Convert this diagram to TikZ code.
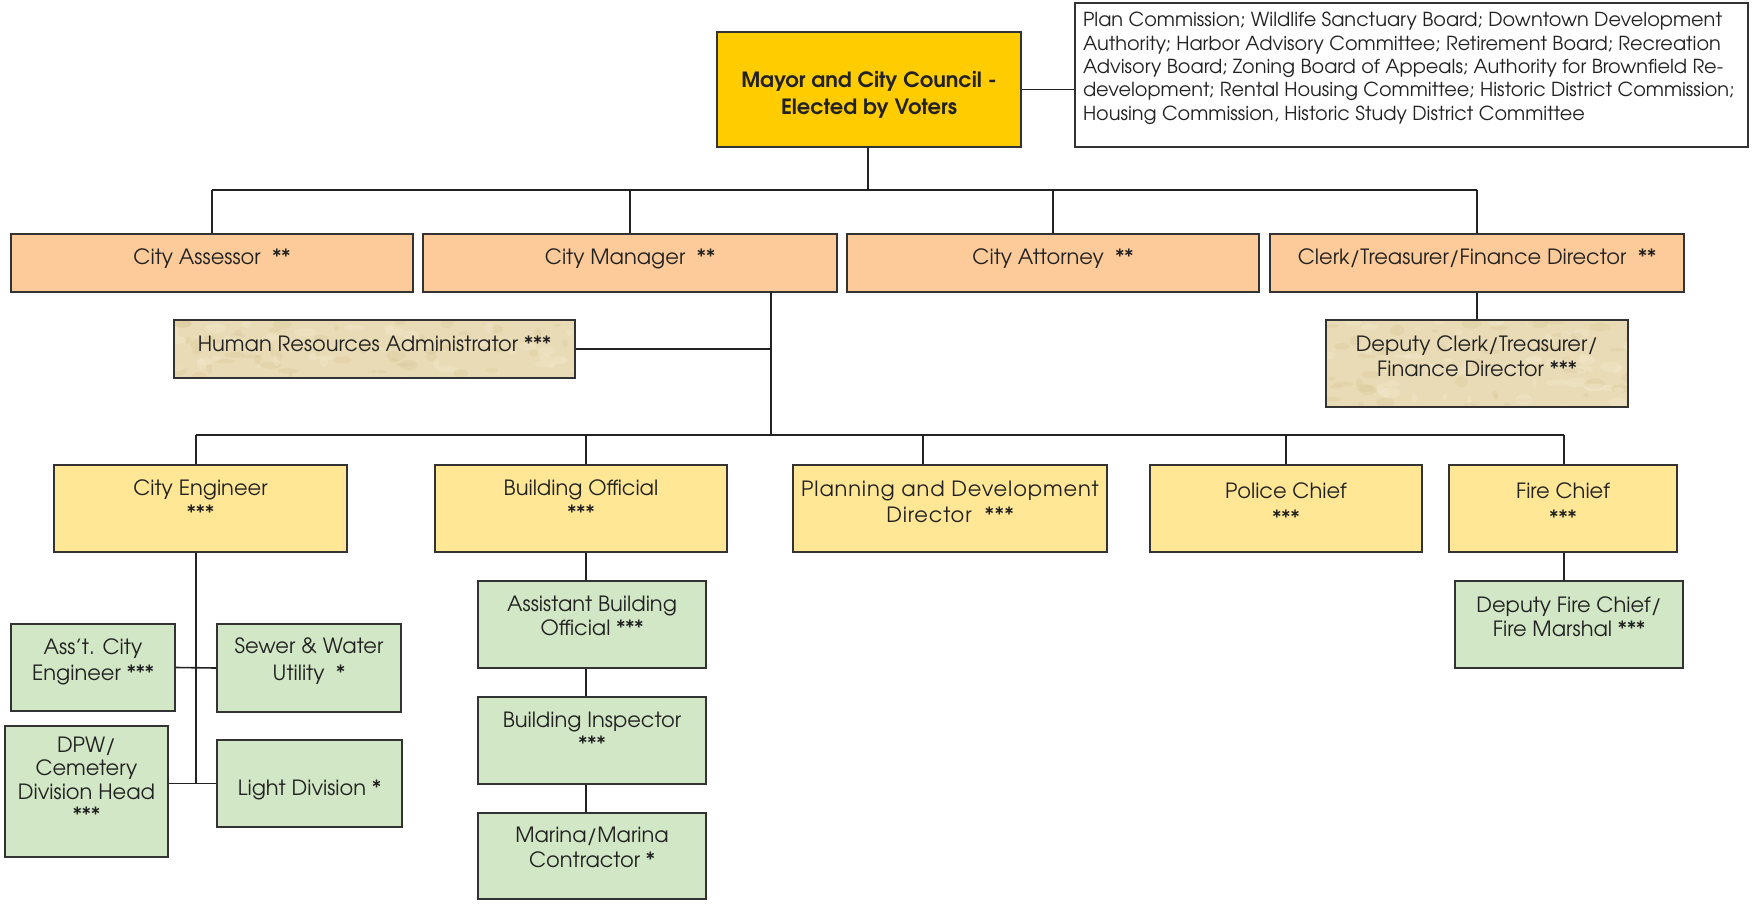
\documentclass[tikz,border=0pt]{standalone}
\usepackage{fontspec}
\setmainfont{texgyreadventor}[Extension=.otf,UprightFont=*-regular,BoldFont=*-bold,ItalicFont=*-italic,BoldItalicFont=*-bolditalic]
\definecolor{mayorc}{HTML}{FFCC00}
\definecolor{peach}{HTML}{FDCB99}
\definecolor{paley}{HTML}{FFE796}
\definecolor{paleg}{HTML}{D2E7C5}
\definecolor{tan}{HTML}{E9DBB5}
\definecolor{tandark}{HTML}{D6C391}
\definecolor{tanlight}{HTML}{F4EBD2}
\definecolor{bord}{HTML}{333333}
\definecolor{txt}{HTML}{222222}
\newcommand\orgbox[9]{\node[#6] (#1) at ({(#2+#4)/2},{(#3+#5)/2}) {\parbox[c][\dimexpr#5pt-#3pt\relax][t]{\dimexpr#4pt-#2pt\relax}{\centering\fontsize{21}{#8}\selectfont\rule{0pt}{#7pt}#9}};}
\tikzset{
  box/.style={draw=bord, line width=2pt, inner sep=0pt, text=txt},
  gold/.style={box, fill=mayorc},
  peachbox/.style={box, fill=peach},
  yelbox/.style={box, fill=paley},
  grnbox/.style={box, fill=paleg},
  tanbox/.style={box, fill=tan, path picture={
    \foreach \i in {1,...,70}{
      \fill[tandark, opacity=0.25] ([xshift=rnd*410pt, yshift=-rnd*95pt]path picture bounding box.north west) ellipse [x radius=2pt+rnd*9pt, y radius=1.5pt+rnd*4pt];
      \fill[tanlight, opacity=0.35] ([xshift=rnd*410pt, yshift=-rnd*95pt]path picture bounding box.north west) ellipse [x radius=2pt+rnd*9pt, y radius=1.5pt+rnd*4pt];
    }}},
  conn/.style={draw=txt, line width=1.6pt}
}
\pgfmathsetseed{42}
\begin{document}
\begin{tikzpicture}[x=1pt,y=-1pt]
\useasboundingbox[fill=white] (0,0) rectangle (1754,907);
% top
\orgbox{mayor}{717}{32}{1021}{147}{gold}{56}{27}{\bfseries Mayor and City Council -\\Elected by Voters}
\node[box, fill=white] (board) at ({(1075+1748)/2},{(3+147)/2}) {\parbox[c][144pt][t]{673pt}{\raggedright\leftskip=8pt\fontsize{19.3}{23.3}\selectfont\rule{0pt}{24pt}Plan Commission; Wildlife Sanctuary Board; Downtown Development\\Authority; Harbor Advisory Committee; Retirement Board; Recreation\\Advisory Board; Zoning Board of Appeals; Authority for Brownfield Re-\\development; Rental Housing Committee; Historic District Commission;\\Housing Commission, Historic Study District Committee}};
% row 2
\orgbox{assessor}{11}{234}{413}{292}{peachbox}{30}{26}{City Assessor~~**}
\orgbox{manager}{423}{234}{837}{292}{peachbox}{30}{26}{City Manager~~**}
\orgbox{attorney}{847}{234}{1259}{292}{peachbox}{30}{26}{City Attorney~~**}
\orgbox{clerk}{1270}{234}{1684}{292}{peachbox}{30}{26}{Clerk/Treasurer/Finance Director~~**}
\orgbox{hr}{174}{320}{575}{378}{tanbox}{31}{26}{Human Resources Administrator ***}
\orgbox{dclerk}{1326}{320}{1628}{407}{tanbox}{31}{25}{Deputy Clerk/Treasurer/\\Finance Director ***}
% row 3
\orgbox{ce}{54}{465}{347}{552}{yelbox}{30}{25}{City Engineer\\{}***}
\orgbox{bo}{435}{465}{727}{552}{yelbox}{30}{25}{Building Official\\{}***}
\orgbox{pd}{793}{465}{1107}{552}{yelbox}{31}{26}{\addfontfeature{LetterSpace=4}Planning and Development\\Director~~***}
\orgbox{pc}{1150}{465}{1422}{552}{yelbox}{33}{27}{Police Chief\\{}***}
\orgbox{fc}{1449}{465}{1677}{552}{yelbox}{33}{27}{Fire Chief\\{}***}
% green
\orgbox{ace}{11}{624}{175}{711}{grnbox}{30}{26}{Ass’t. City\\Engineer ***}
\orgbox{sew}{217}{624}{401}{712}{grnbox}{29}{27}{Sewer \& Water\\Utility~~*}
\orgbox{dpw}{5}{726}{168}{857}{grnbox}{26}{23.5}{DPW/\\Cemetery\\Division Head\\{}***}
\orgbox{light}{217}{740}{402}{827}{grnbox}{55}{26}{Light Division *}
\orgbox{abo}{478}{581}{706}{668}{grnbox}{30}{24}{Assistant Building\\Official ***}
\orgbox{bi}{478}{697}{706}{784}{grnbox}{30}{24}{Building Inspector\\{}***}
\orgbox{mar}{478}{813}{706}{899}{grnbox}{29}{25}{Marina/Marina\\Contractor *}
\orgbox{dfc}{1455}{581}{1683}{668}{grnbox}{31}{24}{Deputy Fire Chief/\\Fire Marshal ***}
% bus coordinates
\coordinate (bus1) at (868,190);
\coordinate (mgr) at (771,292);
\coordinate (bus2) at (771,435);
\coordinate (dce) at (196,435);
\coordinate (dbo) at (586,435);
\coordinate (dpd) at (923,435);
\coordinate (dpc) at (1286,435);
\coordinate (dfcx) at (1564,435);
\coordinate (engb) at (196,784);
% connectors
\draw[conn] (mayor.east) -- (mayor.east -| board.west);
\draw[conn] (mayor.south -| bus1) -- (bus1);
\draw[conn] (bus1 -| assessor.north) -- (bus1 -| clerk.north);
\draw[conn] (bus1 -| assessor.north) -- (assessor.north);
\draw[conn] (bus1 -| manager.north) -- (manager.north);
\draw[conn] (bus1 -| attorney.north) -- (attorney.north);
\draw[conn] (bus1 -| clerk.north) -- (clerk.north);
\draw[conn] (clerk.south) -- (clerk.south |- dclerk.north);
\draw[conn] (mgr) -- (bus2);
\draw[conn] (hr.east) -- (hr.east -| mgr);
\draw[conn] (dce) -- (dfcx);
\draw[conn] (dce) -- (dce |- ce.north);
\draw[conn] (dbo) -- (dbo |- bo.north);
\draw[conn] (dpd) -- (dpd |- pd.north);
\draw[conn] (dpc) -- (dpc |- pc.north);
\draw[conn] (dfcx) -- (dfcx |- fc.north);
\draw[conn] (ce.south -| engb) -- (engb);
\draw[conn] (ace.east) -- (sew.west);
\draw[conn] (light.west) -- (light.west -| dpw.east);
\draw[conn] (bo.south -| dbo) -- (abo.north -| dbo);
\draw[conn] (abo.south -| dbo) -- (bi.north -| dbo);
\draw[conn] (bi.south -| dbo) -- (mar.north -| dbo);
\draw[conn] (fc.south -| dfcx) -- (dfc.north -| dfcx);
\end{tikzpicture}
\end{document}
